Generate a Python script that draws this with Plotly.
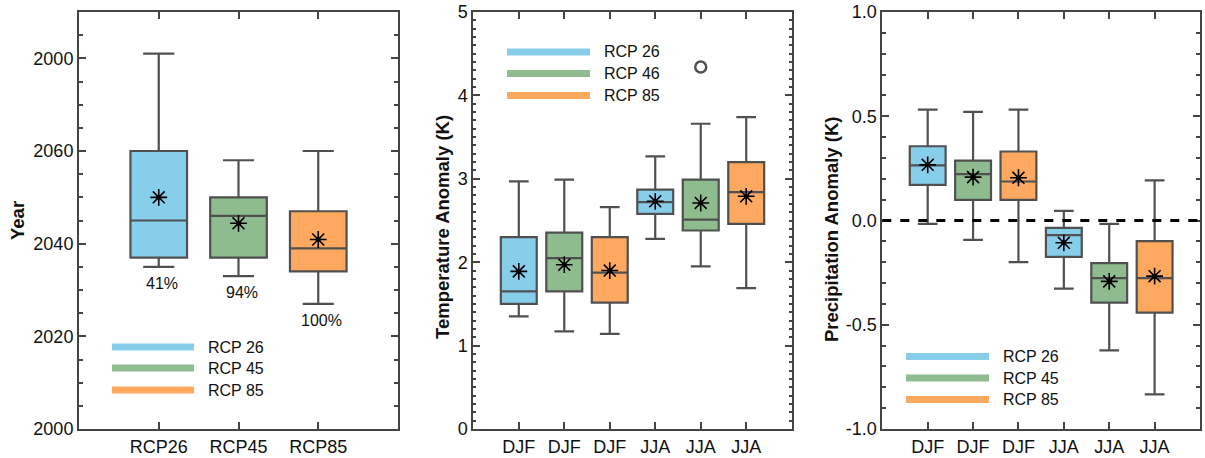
import plotly.graph_objects as go

# ---------------- data ----------------
# Panel 1: year of emergence
p1_cats = ["RCP26", "RCP45", "RCP85"]
p1_lower = [2035, 2033, 2027]
p1_q1 = [2037, 2037, 2034]
p1_median = [2045, 2046, 2039]
p1_q3 = [2060, 2050, 2047]
p1_upper = [2081, 2058, 2060]
p1_mean = [2050, 2044.4, 2040.9]
p1_pct = ["41%", "94%", "100%"]
p1_yticks = [2000, 2020, 2040, 2060, 2080]
p1_yticktext = ["2000", "2020", "2040", "2060", "2000"]
p1_legend = ["RCP 26", "RCP 45", "RCP 85"]

# Panel 2: temperature anomaly
seasons = ["DJF", "DJF", "DJF", "JJA", "JJA", "JJA"]
p2_lower = [1.35, 1.17, 1.14, 2.28, 1.95, 1.69]
p2_q1 = [1.50, 1.65, 1.515, 2.58, 2.38, 2.46]
p2_median = [1.65, 2.05, 1.875, 2.72, 2.51, 2.84]
p2_q3 = [2.30, 2.355, 2.30, 2.87, 2.99, 3.20]
p2_upper = [2.97, 2.99, 2.66, 3.27, 3.66, 3.74]
p2_mean = [1.89, 1.97, 1.90, 2.73, 2.71, 2.79]
p2_outlier_idx = [4]
p2_outlier_val = [4.34]
p2_legend = ["RCP 26", "RCP 46", "RCP 85"]

# Panel 3: precipitation anomaly
p3_lower = [-0.016, -0.093, -0.20, -0.327, -0.623, -0.834]
p3_q1 = [0.171, 0.099, 0.099, -0.174, -0.394, -0.442]
p3_median = [0.264, 0.222, 0.187, -0.07, -0.276, -0.276]
p3_q3 = [0.356, 0.287, 0.331, -0.035, -0.204, -0.099]
p3_upper = [0.532, 0.521, 0.532, 0.046, -0.016, 0.192]
p3_mean = [0.267, 0.208, 0.205, -0.107, -0.292, -0.267]
p3_yticks = [1.0, 0.5, 0.0, -0.5, -1.0]
p3_yticktext = ["1.0", "0.5", "0.0", "-0.5", "-1.0"]
p3_legend = ["RCP 26", "RCP 45", "RCP 85"]

colors = ["#87CEEB", "#8FBC8F", "#FFA860"]
line_col = "#505050"
axis_col = "#444444"
FONT = "Liberation Sans, Arial, sans-serif"

fig = go.Figure()

def add_boxes(xaxis, yaxis, lower, q1, med, q3, upper, mean, cols, width):
    n = len(lower)
    for i in range(n):
        fig.add_trace(go.Box(
            x=[i], q1=[q1[i]], median=[med[i]], q3=[q3[i]],
            lowerfence=[lower[i]], upperfence=[upper[i]],
            width=width, whiskerwidth=0.55,
            fillcolor=cols[i % 3], line=dict(color=line_col, width=2.2),
            boxpoints=False, showlegend=False, hoverinfo="skip",
            xaxis=xaxis, yaxis=yaxis))
    xs = list(range(n))
    fig.add_trace(go.Scatter(
        x=xs, y=mean, mode="markers", xaxis=xaxis, yaxis=yaxis,
        marker=dict(symbol="asterisk-open", size=14, color="black",
                    line=dict(color="black", width=1.6)),
        showlegend=False, hoverinfo="skip"))
    fig.add_trace(go.Scatter(
        x=xs, y=mean, mode="markers", xaxis=xaxis, yaxis=yaxis,
        marker=dict(symbol="circle", size=5, color="black"),
        showlegend=False, hoverinfo="skip"))

add_boxes("x", "y", p1_lower, p1_q1, p1_median, p1_q3, p1_upper, p1_mean, colors, 0.71)
add_boxes("x2", "y2", p2_lower, p2_q1, p2_median, p2_q3, p2_upper, p2_mean, colors, 0.79)
add_boxes("x3", "y3", p3_lower, p3_q1, p3_median, p3_q3, p3_upper, p3_mean, colors, 0.79)

# outlier
fig.add_trace(go.Scatter(
    x=p2_outlier_idx, y=p2_outlier_val, mode="markers", xaxis="x2", yaxis="y2",
    marker=dict(symbol="circle-open", size=11, color=line_col, line=dict(width=2.5, color=line_col)),
    showlegend=False, hoverinfo="skip"))

ydom = [1 - 429 / 458, 1 - 12 / 458]
common_axis = dict(showline=True, linecolor=axis_col, linewidth=2, mirror="allticks",
                   ticks="inside", ticklen=7, tickwidth=2, tickcolor=axis_col,
                   showgrid=False, zeroline=False, automargin=False,
                   tickfont=dict(family=FONT, size=18, color="#111"))

fig.update_layout(
    template="none",
    width=1205, height=458, margin=dict(l=0, r=0, t=0, b=0, pad=0),
    plot_bgcolor="white", paper_bgcolor="white", boxmode="overlay",
    xaxis=dict(domain=[79 / 1205, 398 / 1205], range=[-1, 3],
               tickvals=list(range(3)), ticktext=p1_cats, **common_axis),
    yaxis=dict(domain=ydom, range=[2000, 2090], tickvals=p1_yticks, ticktext=p1_yticktext,
               minor=dict(dtick=5, ticks="inside", ticklen=4, tickwidth=2, tickcolor=axis_col),
               **common_axis),
    xaxis2=dict(domain=[473.3 / 1205, 791.7 / 1205], range=[-1, 6], anchor="y2",
                tickvals=list(range(6)), ticktext=seasons, **common_axis),
    yaxis2=dict(domain=ydom, range=[0, 5], anchor="x2", dtick=1,
                minor=dict(dtick=0.1, ticks="inside", ticklen=3, tickwidth=2, tickcolor=axis_col),
                **common_axis),
    xaxis3=dict(domain=[882.3 / 1205, 1200 / 1205], range=[-1, 6], anchor="y3",
                tickvals=list(range(6)), ticktext=seasons, **common_axis),
    yaxis3=dict(domain=ydom, range=[-1.0, 1.0], anchor="x3", tickvals=p3_yticks, ticktext=p3_yticktext,
                minor=dict(dtick=0.1, ticks="inside", ticklen=4, tickwidth=2, tickcolor=axis_col),
                **common_axis),
)

# zero dashed line in panel 3
fig.add_shape(type="line", xref="x3 domain", yref="y3", x0=0, x1=1, y0=0, y1=0,
              line=dict(color="black", width=3, dash="dash"))

# percent labels panel 1
for i, t in enumerate(p1_pct):
    fig.add_annotation(x=i, y=p1_lower[i], xref="x", yref="y", text=t, showarrow=False,
                       yanchor="top", xshift=3, yshift=-6,
                       font=dict(family=FONT, size=16, color="#111"))

# legends (drawn in axis-domain coords)
def add_legend(xr, yr, labels, x0, x1, ys, xt):
    for c, lab, yy in zip(colors, labels, ys):
        fig.add_shape(type="line", xref=xr, yref=yr, x0=x0, x1=x1, y0=yy, y1=yy,
                      line=dict(color=c, width=7))
        fig.add_annotation(xref=xr, yref=yr, x=xt, y=yy, text=lab, showarrow=False,
                           xanchor="left", yanchor="middle",
                           font=dict(family=FONT, size=16, color="#111"))

def dx(px, l, r):
    return (px - l) / (r - l)

def dy(py):
    return (429 - py) / (429 - 12)

add_legend("x domain", "y domain", p1_legend,
           dx(112, 79, 398), dx(194, 79, 398), [dy(347), dy(368), dy(390)], dx(206, 79, 398))
add_legend("x2 domain", "y2 domain", p2_legend,
           dx(507, 473.3, 791.7), dx(590, 473.3, 791.7), [dy(52), dy(73.5), dy(95.5)], dx(602, 473.3, 791.7))
add_legend("x3 domain", "y3 domain", p3_legend,
           dx(906, 882.3, 1200), dx(989, 882.3, 1200), [dy(356.5), dy(378), dy(399.5)], dx(1001, 882.3, 1200))

# axis titles
titles = [("Year", 18, 221), ("Temperature Anomaly (K)", 442, 227), ("Precipitation Anomaly (K)", 832, 230)]
for txt, px, py in titles:
    fig.add_annotation(xref="paper", yref="paper", x=px / 1205, y=1 - py / 458, text="<b>" + txt + "</b>",
                       textangle=-90, showarrow=False, xanchor="center", yanchor="middle",
                       font=dict(family=FONT, size=18.5, color="#111"))

fig.write_html("out.html", config={"displayModeBar": False},
               post_script="document.body.style.margin='0';document.body.style.overflow='hidden';")
